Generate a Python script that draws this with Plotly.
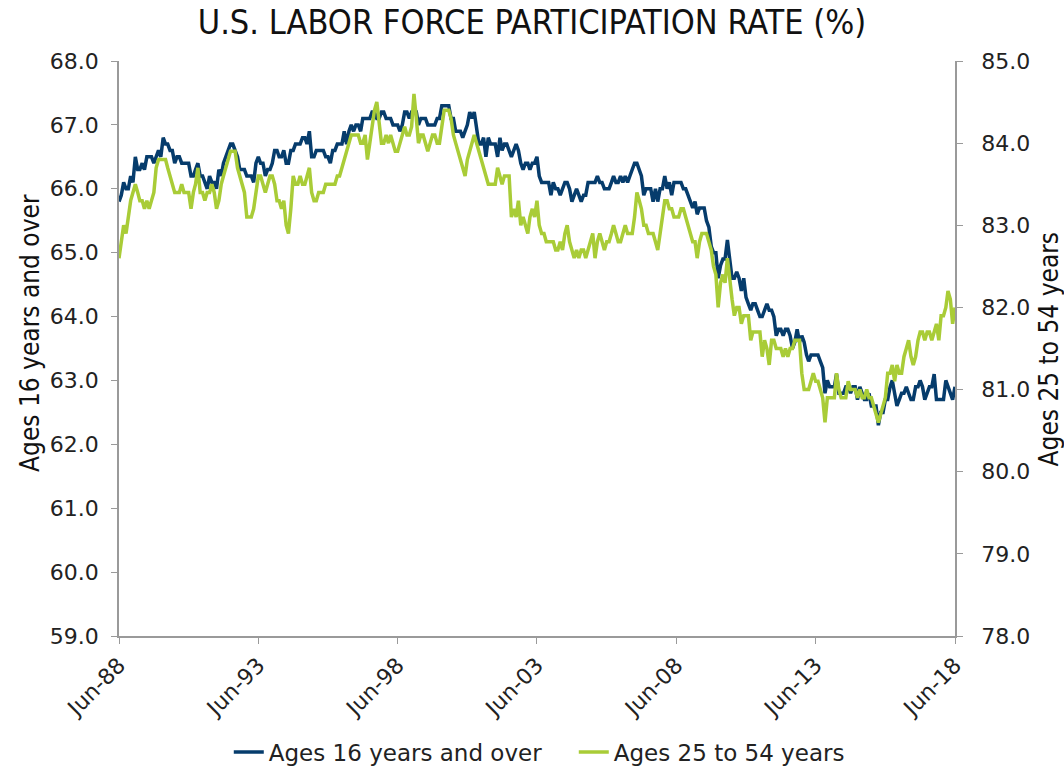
import pandas as pd
import plotly.graph_objects as go

# monthly, Jun-1988 .. Jun-2018 (first row Jun-Dec 1988, last row Jan-Jun 2018)
ages16_over = [
    65.8, 65.9, 66.1, 66.0, 66.0, 66.2, 66.1,
    66.5, 66.3, 66.3, 66.4, 66.3, 66.5, 66.5, 66.5, 66.4, 66.5, 66.6, 66.5,
    66.8, 66.7, 66.7, 66.6, 66.6, 66.4, 66.5, 66.5, 66.4, 66.4, 66.4, 66.4,
    66.2, 66.2, 66.3, 66.4, 66.2, 66.2, 66.1, 66.0, 66.2, 66.1, 66.1, 66.0,
    66.3, 66.2, 66.4, 66.5, 66.6, 66.7, 66.7, 66.6, 66.5, 66.3, 66.3, 66.3,
    66.2, 66.2, 66.2, 66.1, 66.4, 66.5, 66.4, 66.4, 66.2, 66.3, 66.3, 66.4,
    66.6, 66.6, 66.5, 66.5, 66.6, 66.4, 66.4, 66.6, 66.6, 66.7, 66.7, 66.7,
    66.8, 66.8, 66.7, 66.9, 66.5, 66.5, 66.6, 66.6, 66.6, 66.6, 66.5, 66.5,
    66.4, 66.6, 66.6, 66.7, 66.7, 66.7, 66.9, 66.7, 66.9, 67.0, 66.9, 67.0,
    67.0, 66.9, 67.1, 67.1, 67.1, 67.1, 67.2, 67.2, 67.1, 67.1, 67.2, 67.2,
    67.1, 67.1, 67.1, 67.0, 67.0, 67.0, 66.9, 67.0, 67.2, 67.2, 67.1, 67.2,
    67.2, 67.2, 67.0, 67.1, 67.1, 67.1, 67.0, 67.0, 67.0, 67.0, 67.1, 67.1,
    67.3, 67.3, 67.3, 67.3, 67.1, 67.1, 66.9, 66.9, 66.9, 66.8, 66.9, 67.0,
    67.2, 67.1, 67.2, 66.9, 66.7, 66.7, 66.8, 66.5, 66.8, 66.7, 66.7, 66.7,
    66.5, 66.8, 66.6, 66.7, 66.7, 66.6, 66.5, 66.6, 66.7, 66.6, 66.4, 66.3,
    66.4, 66.4, 66.3, 66.4, 66.4, 66.5, 66.2, 66.1, 66.1, 66.1, 66.1, 65.9,
    66.1, 66.0, 66.0, 65.9, 66.0, 66.1, 66.1, 66.0, 65.8, 65.9, 66.0, 65.9,
    65.8, 65.9, 65.9, 66.1, 66.1, 66.1, 66.1, 66.2, 66.1, 66.1, 66.0, 66.0,
    66.0, 66.1, 66.2, 66.1, 66.1, 66.2, 66.1, 66.2, 66.1, 66.2, 66.3, 66.4,
    66.4, 66.3, 66.2, 65.9, 66.0, 66.0, 66.0, 65.8, 66.0, 65.8, 66.0, 66.0,
    66.2, 66.0, 66.1, 65.9, 66.1, 66.1, 66.1, 66.1, 66.0, 66.0, 65.9, 65.8,
    65.7, 65.8, 65.6, 65.7, 65.7, 65.7, 65.5, 65.4, 65.1, 65.0, 65.0, 64.6,
    64.8, 64.9, 64.9, 65.2, 64.9, 64.6, 64.6, 64.7, 64.6, 64.4, 64.6, 64.3,
    64.2, 64.1, 64.2, 64.2, 64.1, 64.0, 64.0, 64.1, 64.2, 64.1, 64.1, 64.0,
    63.7, 63.8, 63.8, 63.7, 63.8, 63.8, 63.7, 63.5, 63.6, 63.8, 63.6, 63.7,
    63.6, 63.4, 63.3, 63.4, 63.4, 63.4, 63.4, 63.3, 63.2, 62.8, 63.0, 62.9,
    62.9, 62.9, 63.1, 62.8, 62.8, 62.8, 62.9, 62.9, 62.8, 62.9, 62.9, 62.7,
    62.9, 62.8, 62.7, 62.7, 62.8, 62.6, 62.6, 62.6, 62.3, 62.5, 62.5, 62.7,
    62.7, 62.9, 63.0, 62.8, 62.6, 62.7, 62.8, 62.8, 62.9, 62.8, 62.7, 62.7,
    62.9, 62.9, 63.0, 62.9, 62.7, 62.8, 62.9, 62.9, 63.1, 62.7, 62.7, 62.7,
    62.7, 63.0, 62.9, 62.8, 62.7, 62.9,
]

ages25_54 = [
    82.6, 82.8, 83.0, 82.9, 83.1, 83.3, 83.4,
    83.5, 83.4, 83.3, 83.3, 83.2, 83.3, 83.2, 83.3, 83.4, 83.7, 83.8, 83.8,
    83.8, 83.8, 83.7, 83.6, 83.5, 83.4, 83.4, 83.4, 83.5, 83.4, 83.4, 83.4,
    83.2, 83.4, 83.5, 83.7, 83.4, 83.4, 83.3, 83.4, 83.4, 83.5, 83.4, 83.2,
    83.3, 83.5, 83.6, 83.7, 83.8, 83.9, 83.9, 83.9, 83.7, 83.6, 83.5, 83.4,
    83.1, 83.1, 83.1, 83.2, 83.4, 83.6, 83.6, 83.5, 83.4, 83.5, 83.6, 83.6,
    83.5, 83.3, 83.3, 83.2, 83.3, 83.0, 82.9, 83.2, 83.6, 83.5, 83.5, 83.6,
    83.5, 83.5, 83.6, 83.7, 83.4, 83.3, 83.3, 83.4, 83.4, 83.4, 83.5, 83.5,
    83.5, 83.5, 83.5, 83.6, 83.6, 83.7, 83.8, 83.9, 84.0, 84.1, 84.1, 84.1,
    84.1, 84.0, 84.0, 84.1, 83.8, 84.0, 84.2, 84.4, 84.5, 84.2, 84.0, 84.0,
    84.1, 84.0, 84.1, 84.0, 83.9, 83.9, 84.0, 84.1, 84.2, 84.1, 84.1, 84.2,
    84.6, 84.3, 84.0, 84.1, 84.1, 84.0, 83.9, 84.0, 84.1, 84.1, 84.0, 84.0,
    84.2, 84.4, 84.4, 84.4, 84.3, 84.1, 84.0, 83.9, 83.8, 83.7, 83.6, 83.8,
    83.9, 84.0, 84.1, 84.0, 83.9, 83.8, 83.7, 83.6, 83.5, 83.5, 83.5, 83.5,
    83.7, 83.6, 83.5, 83.6, 83.6, 83.6, 83.1, 83.2, 83.1, 83.3, 83.0, 83.1,
    83.0, 82.9, 83.1, 83.2, 83.1, 83.3, 83.0, 82.9, 82.9, 82.8, 82.8, 82.8,
    82.8, 82.7, 82.7, 82.8, 82.7, 82.9, 83.0, 82.8, 82.7, 82.6, 82.7, 82.6,
    82.7, 82.7, 82.6, 82.7, 82.8, 82.9, 82.6, 82.8, 82.9, 82.8, 82.7, 82.8,
    82.8, 82.9, 83.0, 82.9, 82.8, 82.8, 82.9, 83.0, 82.9, 82.9, 82.9, 83.1,
    83.4, 83.3, 83.2, 83.0, 83.0, 82.9, 82.9, 82.9, 82.8, 82.7, 82.9, 83.1,
    83.3, 83.3, 83.2, 83.2, 83.1, 83.1, 83.1, 83.2, 83.2, 83.1, 83.0, 82.9,
    82.8, 82.8, 82.6, 82.8, 82.9, 82.9, 82.9, 82.8, 82.7, 82.5, 82.4, 82.0,
    82.3, 82.4, 82.3, 82.6, 82.3, 82.1, 81.9, 82.0, 82.0, 81.8, 81.9, 81.9,
    81.9, 81.6, 81.7, 81.7, 81.7, 81.7, 81.4, 81.6, 81.5, 81.3, 81.6, 81.6,
    81.5, 81.5, 81.5, 81.4, 81.5, 81.4, 81.5, 81.5, 81.6, 81.6, 81.6, 81.2,
    81.0, 81.0, 81.0, 81.1, 81.2, 81.1, 81.1, 81.0, 80.9, 80.6, 80.9, 80.9,
    80.9, 80.9, 81.2, 81.0, 80.9, 80.9, 80.9, 81.1, 81.0, 81.0, 81.0, 80.9,
    81.0, 80.9, 80.9, 81.0, 80.9, 80.9, 80.8, 80.7, 80.6, 80.7, 80.8, 80.9,
    81.2, 81.2, 81.3, 81.1, 81.3, 81.2, 81.2, 81.4, 81.5, 81.6, 81.4, 81.3,
    81.4, 81.6, 81.7, 81.7, 81.6, 81.7, 81.7, 81.6, 81.7, 81.8, 81.6, 81.9,
    81.9, 82.0, 82.2, 82.1, 81.8, 82.0,
]

tick_dates = ["1988-06-01", "1993-06-01", "1998-06-01", "2003-06-01",
              "2008-06-01", "2013-06-01", "2018-06-01"]
tick_labels = ["Jun-88", "Jun-93", "Jun-98", "Jun-03", "Jun-08", "Jun-13", "Jun-18"]

months = pd.date_range("1988-06-01", "2018-06-01", freq="MS")

BLUE = "#063c6c"
GREEN = "#a9cc37"
AXIS = "#9a9a9a"
TICKFONT = dict(family="DejaVu Sans, Verdana, sans-serif", size=22, color="#222222")
NARROW = "Liberation Sans Narrow, DejaVu Sans Condensed, Arial Narrow, sans-serif"

fig = go.Figure()
fig.add_trace(go.Scatter(x=months, y=ages16_over, name="Ages 16 years and over",
                         mode="lines", line=dict(color=BLUE, width=3.5)))
fig.add_trace(go.Scatter(x=months, y=ages25_54, name="Ages 25 to 54 years", yaxis="y2",
                         mode="lines", line=dict(color=GREEN, width=3.5)))

fig.update_layout(
    width=1064, height=766,
    margin=dict(l=119, r=109, t=61, b=130, autoexpand=False),
    plot_bgcolor="white", paper_bgcolor="white",
    title=dict(text="U.S. LABOR FORCE PARTICIPATION RATE (%)", x=0.5, xanchor="center",
               y=0.971, yanchor="middle", font=dict(family=NARROW, size=34, color="#111111")),
    xaxis=dict(type="date", range=["1988-06-01", "2018-06-01"], tickvals=tick_dates,
               ticktext=tick_labels, tickangle=-45, showgrid=False, showline=True,
               linecolor=AXIS, linewidth=1.5, ticks="outside", tickcolor=AXIS,
               ticklen=6, tickfont=TICKFONT),
    yaxis=dict(range=[59, 68], dtick=1, tickformat=".1f", showgrid=False, zeroline=False,
               showline=True, linecolor=AXIS, linewidth=1.5, ticks="outside",
               tickcolor=AXIS, ticklen=6, tickfont=TICKFONT, ticklabelstandoff=8),
    yaxis2=dict(range=[78, 85], dtick=1, tickformat=".1f", overlaying="y", side="right",
                showgrid=False, zeroline=False, showline=True, linecolor=AXIS, linewidth=1.5,
                ticks="outside", tickcolor=AXIS, ticklen=6, tickfont=TICKFONT,
                ticklabelstandoff=14),
    legend=dict(orientation="h", x=0.544, xanchor="center", y=-0.2017, yanchor="middle",
                font=dict(family="DejaVu Sans, Verdana, sans-serif", size=23, color="#222222"),
                itemwidth=30, entrywidth=300),
    showlegend=True,
)

fig.add_annotation(text="Ages 16 years and over", textangle=-90, xref="paper", yref="paper",
                   x=-0.1065, y=0.527, xanchor="center", yanchor="middle", showarrow=False,
                   font=dict(family=NARROW, size=26, color="#111111"))
fig.add_annotation(text="Ages 25 to 54 years", textangle=-90, xref="paper", yref="paper",
                   x=1.1124, y=0.5, xanchor="center", yanchor="middle", showarrow=False,
                   font=dict(family=NARROW, size=26, color="#111111"))

# drop the default 8px page margin so the figure fills the window exactly
fig.write_html("out.html", config={"displayModeBar": False},
               post_script="document.body.style.margin = '0';")
